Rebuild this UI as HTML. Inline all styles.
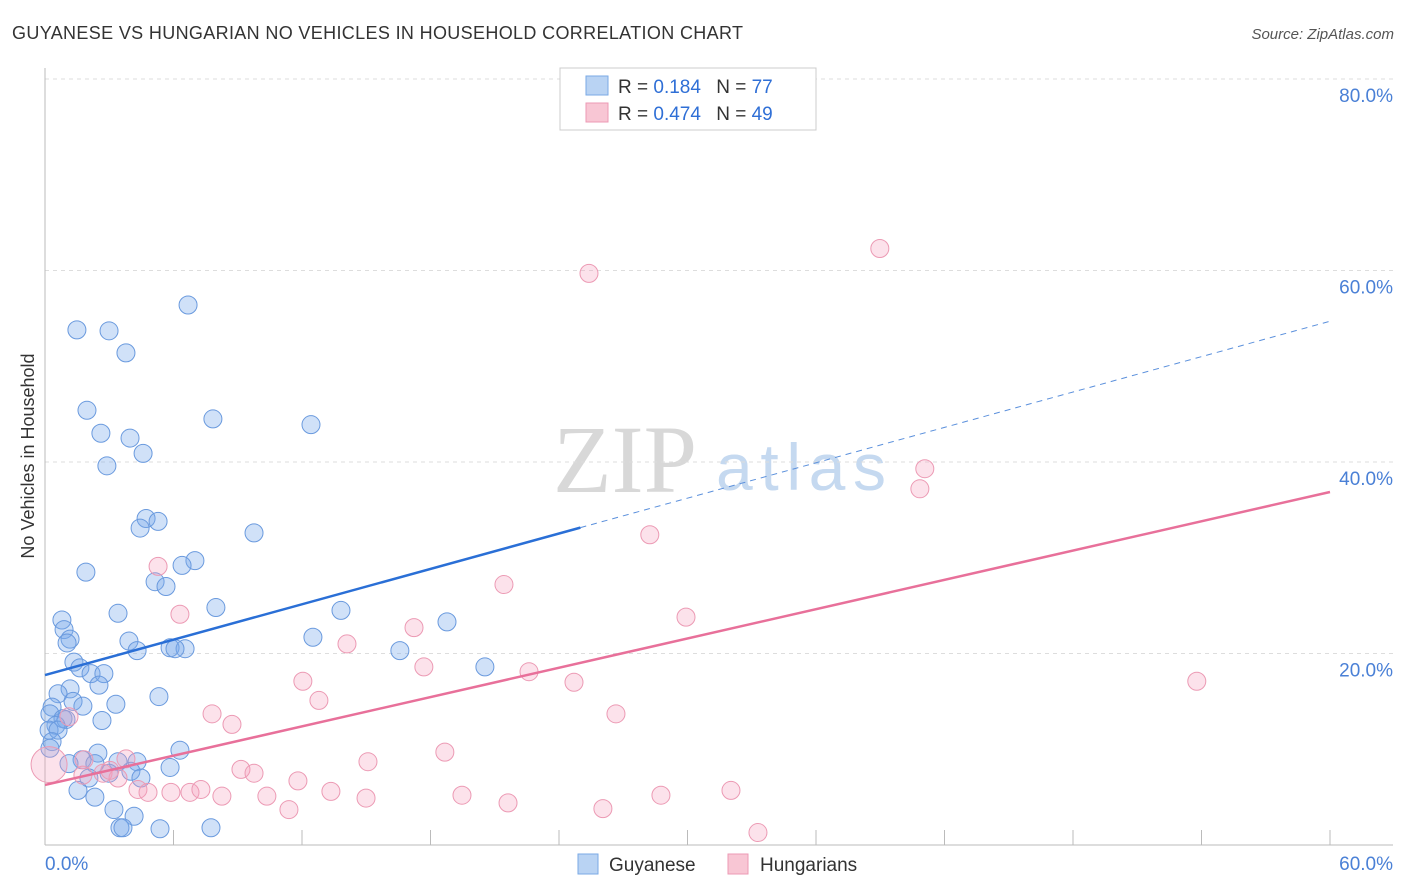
<!DOCTYPE html>
<html><head><meta charset="utf-8"><style>
body{margin:0;background:#fff;font-family:"Liberation Sans",sans-serif}
#wrap{position:relative;width:1406px;height:892px;overflow:hidden}
</style></head><body>
<div id="wrap">
<svg id="svg" width="1406" height="892" xmlns="http://www.w3.org/2000/svg">
<text x="12" y="39" font-size="18" fill="#333" textLength="731">GUYANESE VS HUNGARIAN NO VEHICLES IN HOUSEHOLD CORRELATION CHART</text>
<text x="1394" y="39" font-size="15" fill="#555" font-style="italic" text-anchor="end">Source: ZipAtlas.com</text>
<text x="34" y="456" font-size="18" fill="#333" text-anchor="middle" transform="rotate(-90 34 456)">No Vehicles in Household</text>
<g>
<text x="553" y="492" font-size="96" font-family="Liberation Serif,serif" fill="#d8d8d8">ZIP</text>
<text x="716" y="490" font-size="66" fill="#c5d9f0" textLength="170">atlas</text>
</g>
<g id="grid"></g><g id="axes"></g><g id="pts"></g><g id="lines"></g>
<g>
<rect x="560" y="68" width="256" height="62" fill="#fff" stroke="#ccc"/>
<rect x="586" y="76" width="22" height="19" fill="#b9d3f3" stroke="#7aaae6"/>
<rect x="586" y="103" width="22" height="19" fill="#f8c6d4" stroke="#ec9ab4"/>
<text x="618" y="93" font-size="19" fill="#333">R = <tspan fill="#2f6fd6"> 0.184</tspan>   <tspan dx="10">N = </tspan><tspan fill="#2f6fd6">77</tspan></text>
<text x="618" y="120" font-size="19" fill="#333">R = <tspan fill="#2f6fd6">0.474</tspan>   <tspan dx="10">N = </tspan><tspan fill="#2f6fd6">49</tspan></text>
</g>
<g>
<rect x="578" y="854" width="20" height="20" fill="#b9d3f3" stroke="#7aaae6"/>
<text x="609" y="871" font-size="19" fill="#333">Guyanese</text>
<rect x="728" y="854" width="20" height="20" fill="#f8c6d4" stroke="#ec9ab4"/>
<text x="760" y="871" font-size="19" fill="#333">Hungarians</text>
</g>
</svg>
</div>
<script>
const yTicks=[20,40,60,80];
const yTickLabels=["20.0%","40.0%","60.0%","80.0%"];
const xTicks=[6,12,18,24,30,36,42,48,54,60];
const blueX=[1.49,2.99,6.68,3.78,1.96,7.84,12.42,2.61,3.97,4.58,2.89,4.72,5.28,4.44,9.76,1.91,7.00,6.40,5.14,5.65,7.98,3.41,13.82,0.79,0.89,1.17,1.03,3.92,12.51,18.77,4.30,5.84,6.54,6.07,16.57,20.54,1.35,1.63,2.15,2.75,2.52,1.17,0.61,5.32,1.31,1.77,3.31,0.33,0.23,0.84,0.98,2.66,0.51,0.19,0.61,0.33,0.23,6.30,2.47,1.73,2.33,3.41,4.30,1.12,4.01,2.99,4.48,2.05,5.84,1.54,2.33,3.22,4.16,3.50,3.64,5.37,7.75];
const blueY=[53.8,53.7,56.4,51.4,45.4,44.5,43.9,43.0,42.5,40.9,39.6,34.1,33.8,33.1,32.6,28.5,29.7,29.2,27.5,27.0,24.8,24.2,24.5,23.5,22.5,21.5,21.1,21.3,21.7,23.3,20.3,20.6,20.5,20.5,20.3,18.6,19.1,18.5,17.9,17.9,16.7,16.3,15.8,15.5,15.0,14.5,14.7,14.4,13.7,13.2,13.1,13.0,12.5,12.0,12.0,10.8,10.1,9.9,9.6,8.9,8.5,8.7,8.7,8.5,7.7,7.5,7.0,7.0,8.1,5.7,5.0,3.7,3.0,1.8,1.8,1.7,1.8];
const pinkX=[38.98,25.40,41.08,40.85,28.24,5.28,21.43,6.30,29.93,17.23,14.10,12.04,17.69,22.60,24.70,53.78,12.79,26.66,7.80,8.73,18.67,1.12,15.08,9.15,9.76,11.81,0.19,1.82,3.78,2.71,3.41,4.34,4.81,5.88,6.77,7.28,8.26,10.36,11.39,13.35,14.99,19.47,21.62,26.05,28.76,32.03,33.29,1.77,3.03];
const pinkY=[62.3,59.7,39.3,37.2,32.4,29.1,27.2,24.1,23.8,22.7,21.0,17.1,18.6,18.1,17.0,17.1,15.1,13.7,13.7,12.6,9.7,13.4,8.7,7.9,7.5,6.7,8.4,8.9,9.0,7.5,7.0,5.8,5.5,5.5,5.5,5.8,5.1,5.1,3.7,5.6,4.9,5.2,4.4,3.8,5.2,5.7,1.3,7.3,7.8];
const blueTrend=[17.75,54.7];
const pinkTrend=[6.27,36.87];
const NS="http://www.w3.org/2000/svg";
const xs=v=>45+v*1285/60;
const ys=v=>845-v*9.575;
function mk(tag,attrs,parent){const e=document.createElementNS(NS,tag);for(const k in attrs)e.setAttribute(k,attrs[k]);document.getElementById(parent).appendChild(e);return e;}
yTicks.forEach((t,i)=>{
 const g=mk('line',{x1:45,x2:1393,y1:ys(t),y2:ys(t),stroke:'#ddd','stroke-dasharray':'4,4'},'grid');
 
 
 const l=mk('text',{x:1393,y:ys(t)+23,'font-size':19,fill:'#4a80d6','text-anchor':'end'},'axes');
 l.textContent=yTickLabels[i];
 
 
});
const ya=mk('line',{x1:45,x2:45,y1:68,y2:845,stroke:'#bbb'},'axes');


const xa=mk('line',{x1:45,x2:1393,y1:845,y2:845,stroke:'#bbb'},'axes');


xTicks.forEach(t=>{
 const tk=mk('line',{x1:xs(t),x2:xs(t),y1:830,y2:845,stroke:'#bbb'},'axes');
 
 
});
const x0=mk('text',{x:45,y:870,'font-size':19,fill:'#4a80d6'},'axes');x0.textContent='0.0%';


const x1=mk('text',{x:1393,y:870,'font-size':19,fill:'#4a80d6','text-anchor':'end'},'axes');x1.textContent='60.0%';


blueX.forEach((v,i)=>{
 const c=mk('circle',{cx:xs(v),cy:ys(blueY[i]),r:9,fill:'rgba(120,170,235,0.35)',stroke:'#6a9ade','stroke-width':1},'pts');
 
 
});
pinkX.forEach((v,i)=>{
 const c=mk('circle',{cx:xs(v),cy:ys(pinkY[i]),r:(i===26?18:9),fill:'rgba(245,160,190,0.3)',stroke:'#ec9ab4','stroke-width':1},'pts');
 
 
});
const bx=25.0;
const byMid=blueTrend[0]+(blueTrend[1]-blueTrend[0])*bx/60;
const b1=mk('line',{x1:xs(0),y1:ys(blueTrend[0]),x2:xs(bx),y2:ys(byMid),stroke:'#2a6fd6','stroke-width':2.5},'lines');


const b2=mk('line',{x1:xs(bx),y1:ys(byMid),x2:xs(60),y2:ys(blueTrend[1]),stroke:'#5b90dc','stroke-width':1,'stroke-dasharray':'6,5'},'lines');


const p1=mk('line',{x1:xs(0),y1:ys(pinkTrend[0]),x2:xs(60),y2:ys(pinkTrend[1]),stroke:'#e8709a','stroke-width':2.5},'lines');


</script>
</body></html>
